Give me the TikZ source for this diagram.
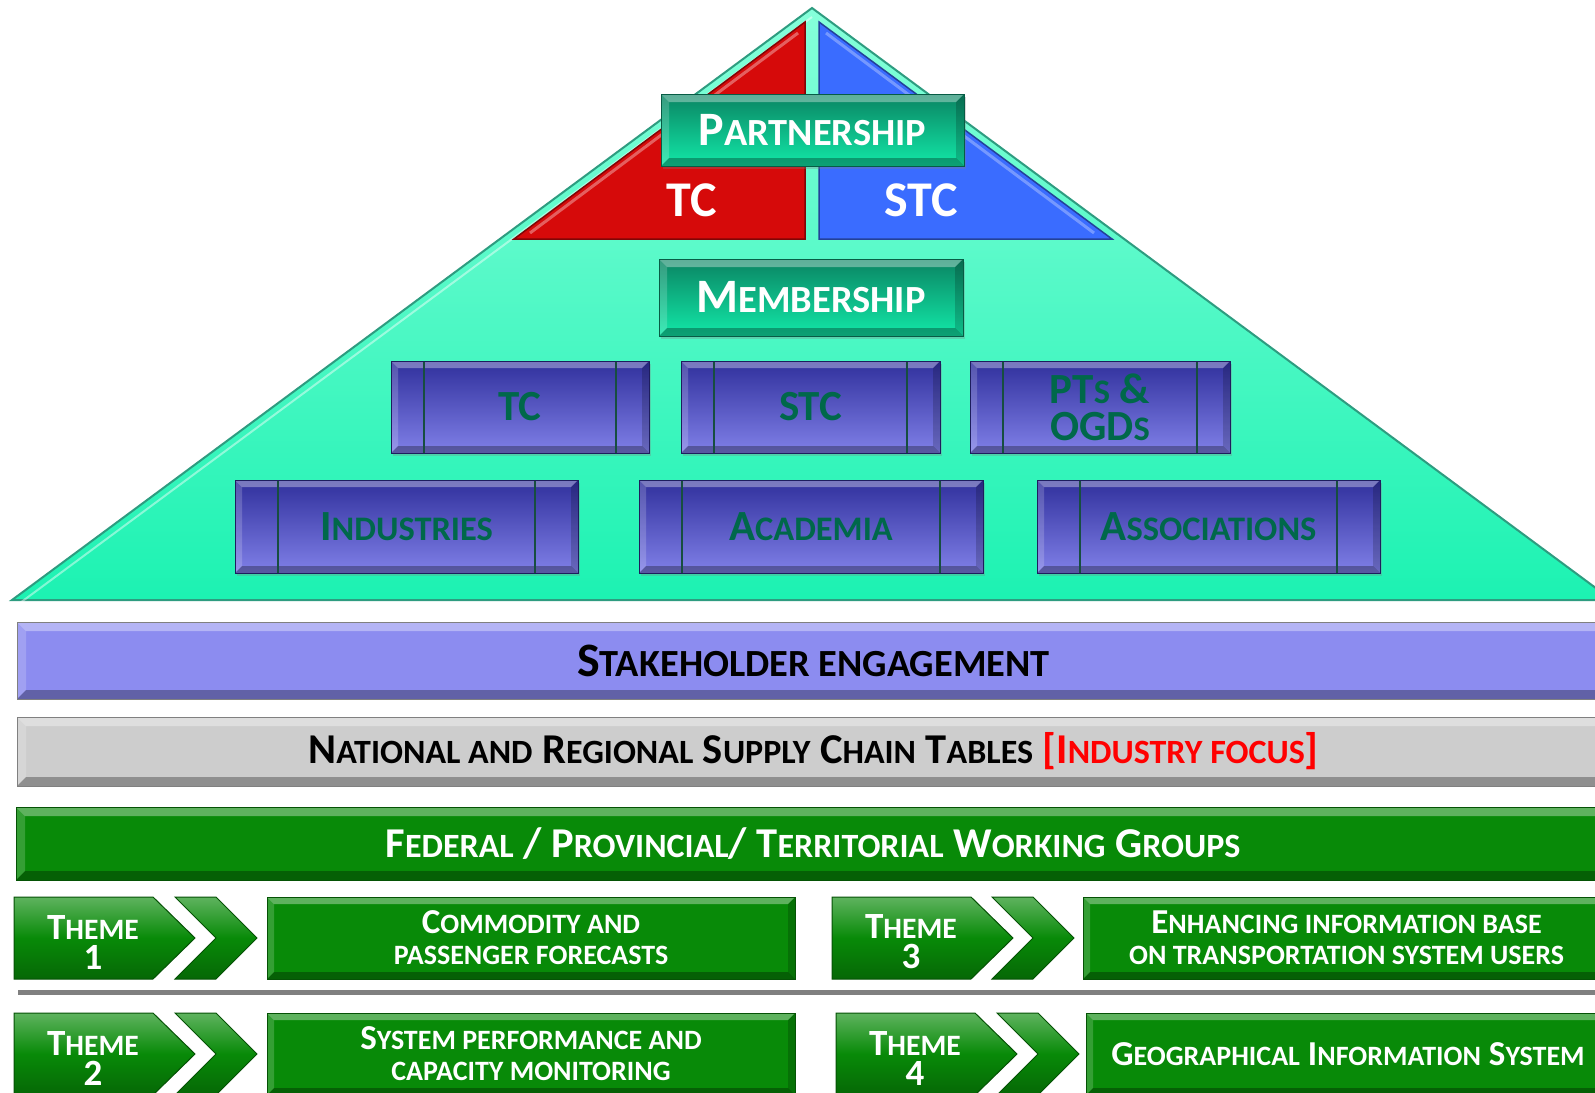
\documentclass[tikz,border=0pt]{standalone}
\usepackage{fontspec}
\setmainfont{Carlito}
\usepackage{graphicx}
\usetikzlibrary{shadows}

\definecolor{aquaTop}{HTML}{86FFDA}
\definecolor{aquaBot}{HTML}{1CF2B2}
\definecolor{aquaEdge}{HTML}{2E9C80}
\definecolor{tcRed}{HTML}{D60A0A}
\definecolor{stcBlue}{HTML}{3A6CFF}
\definecolor{tealTop}{HTML}{0A8462}
\definecolor{tealBot}{HTML}{12E8A8}
\definecolor{memTop}{HTML}{30309C}
\definecolor{memBot}{HTML}{8080E8}
\definecolor{memText}{HTML}{00684A}
\definecolor{lavender}{HTML}{8C8CF0}
\definecolor{silver}{HTML}{CDCDCD}
\definecolor{leaf}{HTML}{088A08}
\definecolor{leafDark}{HTML}{055205}
\definecolor{focusRed}{HTML}{FF0000}

% fake small capitals: upper case letters set smaller
\newcommand\sm[1]{\scalebox{0.8}{#1}}
\newcommand\fs[2]{\fontsize{#1}{#2}\selectfont}

% bevelled edges drawn inside a node's outline
\newcommand\bevelfx[1]{%
  \path (path picture bounding box.north west) coordinate (bA)
        (path picture bounding box.north east) coordinate (bB)
        (path picture bounding box.south east) coordinate (bC)
        (path picture bounding box.south west) coordinate (bD);
  \fill[white,opacity=0.35] (bA) -- (bB) -- ([shift={(-#1pt,-#1pt)}]bB) -- ([shift={(#1pt,-#1pt)}]bA) -- cycle;
  \fill[white,opacity=0.18] (bA) -- ([shift={(#1pt,-#1pt)}]bA) -- ([shift={(#1pt,#1pt)}]bD) -- (bD) -- cycle;
  \fill[black,opacity=0.30] (bD) -- (bC) -- ([shift={(-#1pt,#1pt)}]bC) -- ([shift={(#1pt,#1pt)}]bD) -- cycle;
  \fill[black,opacity=0.18] (bB) -- ([shift={(-#1pt,-#1pt)}]bB) -- ([shift={(-#1pt,#1pt)}]bC) -- (bC) -- cycle;
}

% theme arrow (pentagon) and chevron: #1 left x, #2 middle y, #3 chevron left x
\newcommand\themeshape[3]{%
  \shade[themefill] (#1,#2-41) coordinate (tl) -- ++(139,0) -- ++(42,41) -- ++(-42,41) -- ++(-139,0) -- cycle;
  \shade[themefill] (#3,#2-41) -- ++(41,0) -- ++(41,41) -- ++(-41,41) -- ++(-41,0) -- ++(41,-41) -- cycle;
}

\tikzset{
  softshadow/.style={drop shadow={opacity=0.3, shadow xshift=2pt, shadow yshift=-3pt}},
  tealbox/.style={rectangle, inner sep=0pt, draw=tealTop!70!black, line width=1pt,
    top color=tealTop, bottom color=tealBot, text=white, font=\bfseries\fs{48}{50},
    softshadow, path picture={\bevelfx{8}}},
  memberbox/.style={rectangle, inner sep=0pt, draw=memTop!60!black, line width=1pt,
    top color=memTop, bottom color=memBot, text=memText, font=\bfseries\fs{43}{37},
    align=center, softshadow,
    path picture={\bevelfx{7}
      \draw[aquaEdge!50!black, line width=1.2pt] ([xshift=#1]bA) -- ([xshift=#1]bD)
        ([xshift=-#1]bB) -- ([xshift=-#1]bC);}},
  bar/.style={rectangle, inner sep=0pt, draw=gray, line width=1pt, fill=#1,
    path picture={\bevelfx{9}}},
  greenbox/.style={rectangle, inner sep=0pt, draw=leafDark, line width=1pt, fill=leaf,
    text=white, font=\bfseries\fs{35}{31}, align=center, minimum height=82pt,
    path picture={\bevelfx{7}}},
  themefill/.style={draw=leafDark, line width=1pt, top color=leaf!65!white,
    bottom color=leaf!75!black, middle color=leaf},
  themetext/.style={text=white, font=\bfseries\fs{37}{30}, align=center, inner sep=0pt},
}

\begin{document}
\begin{tikzpicture}[x=1pt,y=-1pt]
\useasboundingbox (0,0) rectangle (1595,1092);
\clip (0,0) rectangle (1595,1092);
\fill[white] (0,0) rectangle (1595,1092);

% ---------- pyramid ----------
\coordinate (apex) at (812,8);
\coordinate (baseL) at (12,600);
\coordinate (baseR) at (1612,600);
\shade[top color=aquaTop, bottom color=aquaBot, draw=aquaEdge, line width=2pt]
  (baseL) -- (apex) -- (baseR) -- cycle;
\draw[white, opacity=0.45, line width=2pt] ([shift={(8pt,-3pt)}]baseL) -- ([shift={(0pt,-9pt)}]apex);

% partnership triangles
\fill[tcRed, draw=tcRed!60!black, line width=1.5pt] (514,239) -- (805,22) -- (805,239) -- cycle;
\draw[white, opacity=0.35, line width=3pt] (530,233) -- (798,33);
\fill[stcBlue, draw=stcBlue!60!black, line width=1.5pt] (819,22) -- (819,239) -- (1112,239) -- cycle;
\draw[white, opacity=0.3, line width=3pt] (826,33) -- (1094,233);

\node[font=\bfseries\fs{50}{50}, text=white] (tcLabel) at (692,200) {TC};
\node[font=\bfseries\fs{50}{50}, text=white] (stcLabel) at (921,200) {STC};

\node[tealbox, minimum width=303pt, minimum height=72pt] (partner) at (812.5,130) {P\sm{ARTNERSHIP}};
\node[tealbox, minimum width=304pt, minimum height=77pt] (member) at (811,297.5) {M\sm{EMBERSHIP}};

% member boxes
\node[memberbox=33pt, minimum width=258pt, minimum height=92pt] (mTC) at (520,407) {TC};
\node[memberbox=33pt, minimum width=259pt, minimum height=92pt] (mSTC) at (810.5,407) {STC};
\node[memberbox=33pt, minimum width=260pt, minimum height=92pt] (mPT) at (1100,407) {PT\sm{S} \&\\OGD\sm{S}};
\node[memberbox=43pt, minimum width=343pt, minimum height=93pt] (mInd) at (406.5,526.5) {I\sm{NDUSTRIES}};
\node[memberbox=43pt, minimum width=344pt, minimum height=93pt] (mAca) at (811,526.5) {A\sm{CADEMIA}};
\node[memberbox=43pt, minimum width=343pt, minimum height=93pt] (mAss) at (1208.5,526.5) {A\sm{SSOCIATIONS}};

% ---------- horizontal bars ----------
\node[bar=lavender, minimum width=1593pt, minimum height=77pt, font=\bfseries\fs{48}{50}] (stake) at (813.5,660.5)
  {S\sm{TAKEHOLDER ENGAGEMENT}};
\node[bar=silver, minimum width=1593pt, minimum height=69pt, font=\bfseries\fs{42.5}{46}] (supply) at (813.5,751.5)
  {N\sm{ATIONAL AND} R\sm{EGIONAL} S\sm{UPPLY} C\sm{HAIN} T\sm{ABLES} \textcolor{focusRed}{[I\sm{NDUSTRY FOCUS}]}};
\node[bar=leaf, draw=leafDark, minimum width=1594pt, minimum height=73pt, text=white, font=\bfseries\fs{42.5}{46}] (fpt) at (813,843.5)
  {F\sm{EDERAL} / P\sm{ROVINCIAL}/ T\sm{ERRITORIAL} W\sm{ORKING} G\sm{ROUPS}};

% ---------- themes ----------
\themeshape{14}{938}{175}
\node[themetext] (t1text) at (93,942) {T\sm{HEME}\\1};
\node[greenbox, minimum width=528pt] (t1box) at (531,938) {C\sm{OMMODITY AND}\\\sm{PASSENGER FORECASTS}};

\themeshape{832}{938}{992}
\node[themetext] (t3text) at (911,942) {T\sm{HEME}\\3};
\node[greenbox, minimum width=527pt] (t3box) at (1346.5,938) {E\sm{NHANCING INFORMATION BASE}\\\sm{ON TRANSPORTATION SYSTEM USERS}};

\coordinate (sepL) at (18,992);
\coordinate (sepR) at (1610,992);
\draw[gray, line width=5pt] (sepL) -- (sepR);

\themeshape{14}{1054}{175}
\node[themetext] (t2text) at (93,1058) {T\sm{HEME}\\2};
\node[greenbox, minimum width=528pt] (t2box) at (531,1054) {S\sm{YSTEM PERFORMANCE AND}\\\sm{CAPACITY MONITORING}};

\themeshape{836}{1054}{997}
\node[themetext] (t4text) at (915,1058) {T\sm{HEME}\\4};
\node[greenbox, minimum width=524pt, font=\bfseries\fs{35}{31}] (t4box) at (1348,1054) {G\sm{EOGRAPHICAL} I\sm{NFORMATION} S\sm{YSTEM}};
\end{tikzpicture}
\end{document}
